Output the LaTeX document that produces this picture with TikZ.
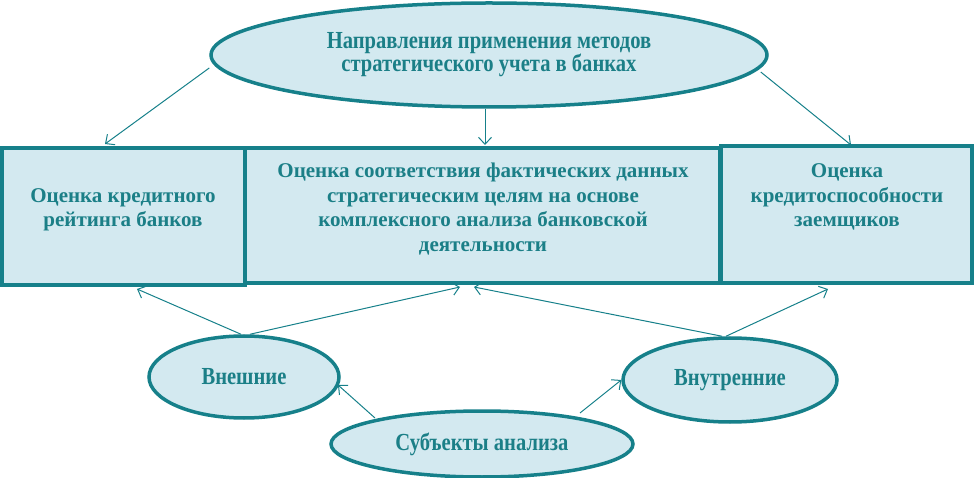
\documentclass[tikz,border=0pt]{standalone}
\usepackage{fontspec}
\setmainfont{Liberation Serif}
\newfontfamily\condfont[FakeStretch=0.84]{Liberation Serif}
\usetikzlibrary{shapes.geometric,arrows.meta}
\definecolor{teal1}{HTML}{16808A}
\definecolor{fillb}{HTML}{D3E9F0}
\definecolor{txt}{HTML}{1B7F87}
\tikzset{
  box/.style={draw=teal1, line width=3.5pt, fill=fillb, rectangle, inner sep=0pt},
  oval/.style={draw=teal1, line width=3.5pt, fill=fillb, ellipse, inner sep=0pt},
  lbl/.style={text=txt, font=\bfseries\fontsize{21}{24.5}\selectfont, align=center},
  clbl/.style={text=txt, font=\condfont\bfseries\fontsize{24.5}{23}\selectfont, align=center},
  arr/.style={draw=teal1, line width=1pt, -{Straight Barb[length=7pt,width=13pt]}}
}
\begin{document}
\begin{tikzpicture}[x=1pt,y=-1pt]
\useasboundingbox (0,0) rectangle (975,478);
% boxes
\node[box, minimum width=243pt, minimum height=137pt] (b1) at (123.5,216.5) {};
\node[box, minimum width=475pt, minimum height=135pt] (b2) at (482.5,215.5) {};
\node[box, minimum width=251pt, minimum height=137pt] (b3) at (846.5,214.5) {};
\node[lbl] (t1) at (123,210) {Оценка кредитного\\рейтинга банков};
\node[lbl] (t2) at (483,209) {Оценка соответствия фактических данных\\стратегическим целям на основе\\комплексного анализа банковской\\деятельности};
\node[lbl] (t3) at (847,197) {Оценка\\кредитоспособности\\заемщиков};
% top ellipse
\node[oval, minimum width=556pt, minimum height=104pt] (top) at (489,55) {};
\node[clbl] (tt) at (489,55) {Направления применения методов\\стратегического учета в банках};
% bottom ellipses
\node[oval, minimum width=190pt, minimum height=82pt] (ext) at (244,377) {};
\node[clbl] at (ext.center) {Внешние};
\node[oval, minimum width=214pt, minimum height=84pt] (int) at (730,380) {};
\node[clbl] at (int.center) {Внутренние};
\node[oval, minimum width=302pt, minimum height=66pt] (sub) at (482,444) {};
\node[clbl] at (sub.center) {Субъекты анализа};
% arrow end coordinates
\coordinate (a1) at (105,144);
\coordinate (a2) at (485,145);
\coordinate (a3) at (851,145);
\coordinate (a4) at (137,289);
\coordinate (a5) at (460,287);
\coordinate (a6) at (474,287);
\coordinate (a7) at (828,289);
\draw[arr] ([yshift=-13pt]top.west) -- (a1);
\draw[arr] ([xshift=-4pt]top.south) -- (a2);
\draw[arr] ([xshift=-8pt,yshift=-17pt]top.east) -- (a3);
\draw[arr] ([xshift=-3pt]ext.north) -- (a4);
\draw[arr] ([xshift=6pt]ext.north) -- (a5);
\draw[arr] ([xshift=-8pt]int.north) -- (a6);
\draw[arr] ([xshift=-4pt]int.north) -- (a7);
\draw[arr] ([shift={(-107pt,26pt)}]sub.center) -- ([shift={(94pt,-8pt)}]ext.center);
\draw[arr] ([shift={(98pt,31pt)}]sub.center) -- (int.west);
\end{tikzpicture}
\end{document}
